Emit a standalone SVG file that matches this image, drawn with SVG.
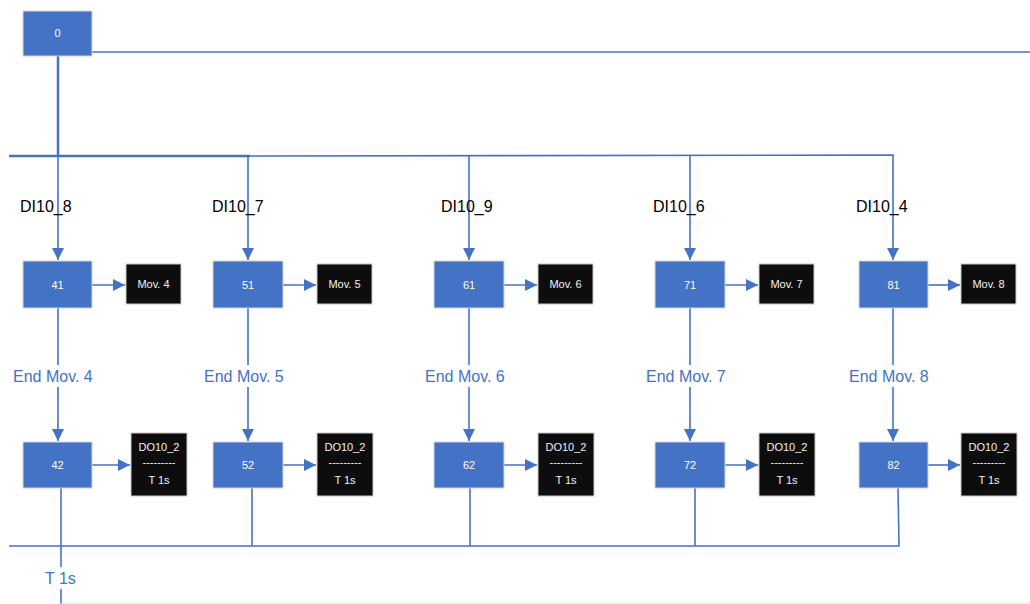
<svg xmlns="http://www.w3.org/2000/svg" width="1030" height="604" viewBox="0 0 1030 604">
<defs>
<marker id="ah" viewBox="0 0 10 10" refX="10" refY="5" markerWidth="12" markerHeight="12" markerUnits="userSpaceOnUse" orient="auto"><path d="M0,0 L10,5 L0,10 z" fill="#4472C4"/></marker>
<style>
.step{fill:#4472C4;stroke:#d0d4dc;stroke-width:1}
.act{fill:#0d0d0d;stroke:#c8c8c8;stroke-width:1}
.st{font-family:"Liberation Sans",Arial,sans-serif;font-size:11px;fill:#ffffff;text-anchor:middle}
.at{font-family:"Liberation Sans",Arial,sans-serif;font-size:11px;fill:#f2f2f2;text-anchor:middle}
.lbl{font-family:"Liberation Sans",Arial,sans-serif;font-size:16px;fill:#000000}
.blu{font-family:"Liberation Sans",Arial,sans-serif;font-size:16px;fill:#4472C4}
.ln{stroke:#4472C4;stroke-width:1.6;fill:none}
.lt{stroke:#4472C4;stroke-width:2.5;fill:none}
</style>
</defs>
<g id="connectors">
<line class="ln" x1="92" y1="52" x2="1030" y2="52"/>
<line class="lt" x1="58" y1="56" x2="58" y2="156"/>
<line class="lt" x1="9" y1="156" x2="250" y2="156"/>
<polyline class="ln" points="248,156 893,155 893,260" marker-end="url(#ah)"/>
<line class="ln" x1="58" y1="156" x2="58" y2="260" marker-end="url(#ah)"/>
<line class="ln" x1="248" y1="156" x2="248" y2="260" marker-end="url(#ah)"/>
<line class="ln" x1="469" y1="155" x2="469" y2="260" marker-end="url(#ah)"/>
<line class="ln" x1="690" y1="155" x2="690" y2="260" marker-end="url(#ah)"/>
<line class="ln" x1="92" y1="285" x2="125" y2="285" marker-end="url(#ah)"/>
<line class="ln" x1="283" y1="285" x2="316" y2="285" marker-end="url(#ah)"/>
<line class="ln" x1="504" y1="285" x2="537" y2="285" marker-end="url(#ah)"/>
<line class="ln" x1="725" y1="285" x2="758" y2="285" marker-end="url(#ah)"/>
<line class="ln" x1="928" y1="285" x2="960" y2="285" marker-end="url(#ah)"/>
<line class="ln" x1="58" y1="308" x2="58" y2="441" marker-end="url(#ah)"/>
<line class="ln" x1="248" y1="308" x2="248" y2="441" marker-end="url(#ah)"/>
<line class="ln" x1="469" y1="308" x2="469" y2="441" marker-end="url(#ah)"/>
<line class="ln" x1="690" y1="308" x2="690" y2="441" marker-end="url(#ah)"/>
<line class="ln" x1="893" y1="308" x2="893" y2="441" marker-end="url(#ah)"/>
<line class="ln" x1="92" y1="465" x2="130" y2="465" marker-end="url(#ah)"/>
<line class="ln" x1="283" y1="465" x2="316" y2="465" marker-end="url(#ah)"/>
<line class="ln" x1="504" y1="465" x2="537" y2="465" marker-end="url(#ah)"/>
<line class="ln" x1="725" y1="465" x2="758" y2="465" marker-end="url(#ah)"/>
<line class="ln" x1="928" y1="465" x2="960" y2="465" marker-end="url(#ah)"/>
<line class="ln" x1="61" y1="488" x2="61" y2="604"/>
<polyline class="ln" points="9,546 899,546 898,488"/>
<line class="ln" x1="252" y1="488" x2="252" y2="546"/>
<line class="ln" x1="470" y1="488" x2="470" y2="546"/>
<line class="ln" x1="695" y1="488" x2="695" y2="546"/>
<line x1="61" y1="603" x2="1030" y2="603" stroke="#dde3ee" stroke-width="1"/>
</g>
<g id="labels">
<text class="lbl" x="20" y="212">DI10_8</text>
<text class="lbl" x="212" y="212">DI10_7</text>
<text class="lbl" x="441" y="212">DI10_9</text>
<text class="lbl" x="653" y="212">DI10_6</text>
<text class="lbl" x="856" y="212">DI10_4</text>
<rect x="12" y="365" width="96" height="22" fill="#fff"/>
<text class="blu" x="13" y="382">End Mov. 4</text>
<rect x="203" y="365" width="96" height="22" fill="#fff"/>
<text class="blu" x="204" y="382">End Mov. 5</text>
<rect x="424" y="365" width="96" height="22" fill="#fff"/>
<text class="blu" x="425" y="382">End Mov. 6</text>
<rect x="645" y="365" width="96" height="22" fill="#fff"/>
<text class="blu" x="646" y="382">End Mov. 7</text>
<rect x="848" y="365" width="96" height="22" fill="#fff"/>
<text class="blu" x="849" y="382">End Mov. 8</text>
<rect x="44" y="567" width="36" height="22" fill="#fff"/>
<text class="blu" x="45" y="584">T 1s</text>
</g>
<g id="n0"><rect class="step" x="23" y="11" width="69" height="45"/><text class="st" x="57.5" y="37">0</text></g>
<g id="n41"><rect class="step" x="23" y="261" width="69" height="47"/><text class="st" x="57.5" y="289">41</text></g>
<g id="n51"><rect class="step" x="213" y="261" width="70" height="47"/><text class="st" x="248" y="289">51</text></g>
<g id="n61"><rect class="step" x="434" y="261" width="70" height="47"/><text class="st" x="469" y="289">61</text></g>
<g id="n71"><rect class="step" x="655" y="261" width="70" height="47"/><text class="st" x="690" y="289">71</text></g>
<g id="n81"><rect class="step" x="859" y="261" width="69" height="47"/><text class="st" x="893.5" y="289">81</text></g>
<g id="a4"><rect class="act" x="126" y="264" width="55" height="40"/><text class="at" x="153.5" y="288">Mov. 4</text></g>
<g id="a5"><rect class="act" x="317" y="264" width="55" height="40"/><text class="at" x="344.5" y="288">Mov. 5</text></g>
<g id="a6"><rect class="act" x="538" y="264" width="55" height="40"/><text class="at" x="565.5" y="288">Mov. 6</text></g>
<g id="a7"><rect class="act" x="759" y="264" width="55" height="40"/><text class="at" x="786.5" y="288">Mov. 7</text></g>
<g id="a8"><rect class="act" x="961" y="264" width="55" height="40"/><text class="at" x="988.5" y="288">Mov. 8</text></g>
<g id="n42"><rect class="step" x="23" y="442" width="69" height="46"/><text class="st" x="57.5" y="469">42</text></g>
<g id="n52"><rect class="step" x="213" y="442" width="70" height="46"/><text class="st" x="248" y="469">52</text></g>
<g id="n62"><rect class="step" x="434" y="442" width="70" height="46"/><text class="st" x="469" y="469">62</text></g>
<g id="n72"><rect class="step" x="655" y="442" width="70" height="46"/><text class="st" x="690" y="469">72</text></g>
<g id="n82"><rect class="step" x="859" y="442" width="69" height="46"/><text class="st" x="893.5" y="469">82</text></g>
<g id="d4"><rect class="act" x="131" y="433" width="56" height="63"/><text class="at" x="159" y="451">DO10_2</text><text class="at" x="159" y="466">---------</text><text class="at" x="159" y="484">T 1s</text></g>
<g id="d5"><rect class="act" x="317" y="433" width="56" height="63"/><text class="at" x="345" y="451">DO10_2</text><text class="at" x="345" y="466">---------</text><text class="at" x="345" y="484">T 1s</text></g>
<g id="d6"><rect class="act" x="538" y="433" width="56" height="63"/><text class="at" x="566" y="451">DO10_2</text><text class="at" x="566" y="466">---------</text><text class="at" x="566" y="484">T 1s</text></g>
<g id="d7"><rect class="act" x="759" y="433" width="56" height="63"/><text class="at" x="787" y="451">DO10_2</text><text class="at" x="787" y="466">---------</text><text class="at" x="787" y="484">T 1s</text></g>
<g id="d8"><rect class="act" x="961" y="433" width="56" height="63"/><text class="at" x="989" y="451">DO10_2</text><text class="at" x="989" y="466">---------</text><text class="at" x="989" y="484">T 1s</text></g>
</svg>
